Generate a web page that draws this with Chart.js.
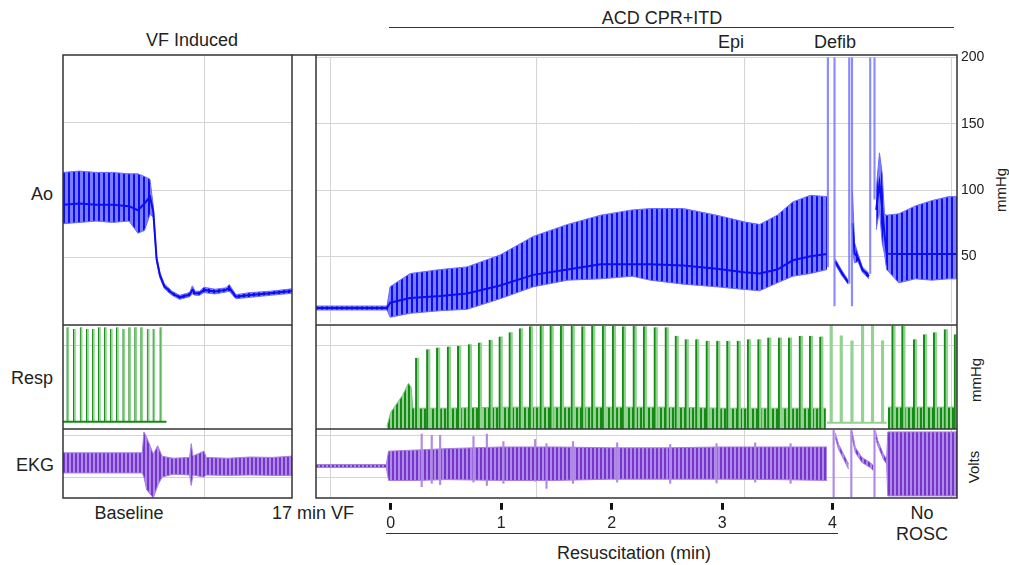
<!DOCTYPE html>
<html>
<head>
<meta charset="utf-8">
<script src="https://cdn.jsdelivr.net/npm/chart.js@4.4.1/dist/chart.umd.min.js"></script>
<style>
  body { margin: 0; background: #fff; }
  #stage { position: relative; width: 1009px; height: 565px; overflow: hidden;
           font-family: 'Liberation Sans', Arial, sans-serif; color: #222; }
  #stage canvas { position: absolute; }
  #frames { position: absolute; left: 0; top: 0; }
  .lbl { position: absolute; transform: translate(-50%, -50%); white-space: nowrap; font-size: 18px; line-height: 1; }
  .lbl.r { transform: translate(-100%, -50%); }
  .lbl.v { transform: translate(-50%, -50%) rotate(-90deg); font-size: 15px; }
</style>
</head>
<body>
<div id="stage">
  <div class="lbl" style="left:192px;top:40px">VF Induced</div>
  <div class="lbl" style="left:662px;top:18px">ACD CPR+ITD</div>
  <div class="lbl" style="left:731px;top:42px">Epi</div>
  <div class="lbl" style="left:835px;top:42px">Defib</div>
  <div class="lbl r" style="left:53px;top:194px">Ao</div>
  <div class="lbl r" style="left:53px;top:378px">Resp</div>
  <div class="lbl r" style="left:54px;top:465px">EKG</div>
  <div class="lbl" style="left:129px;top:513px">Baseline</div>
  <div class="lbl" style="left:313px;top:513px">17 min VF</div>
  <div class="lbl" style="left:922px;top:513px">No</div>
  <div class="lbl" style="left:922px;top:534px">ROSC</div>
  <div class="lbl" style="left:634px;top:553px">Resuscitation (min)</div>
  <div class="lbl v" style="left:1000px;top:190px">mmHg</div>
  <div class="lbl v" style="left:975px;top:380px">mmHg</div>
  <div class="lbl v" style="left:973px;top:467px">Volts</div>
</div>
<script>
// ---- time axes (minutes) ----
const leftRange  = [0, 2.08];          // baseline + VF induction
const rightRange = [-0.677, 5.127];    // end of 17 min VF -> resuscitation
const leftGridX  = [1.283];
const rightGridX = [-0.55, 1.322, 3.203, 5.075];
const minuteTicks = [0, 1, 2, 3, 4];

// ---- Ao (mmHg): baseline / VF ----
const aoBaseT   = [0, 0.15, 0.30, 0.45, 0.60, 0.68, 0.74, 0.79, 0.82, 0.85, 0.88, 0.92, 0.99, 1.06, 1.15, 1.175, 1.20, 1.24, 1.28, 1.38, 1.48, 1.51, 1.57, 1.70, 1.88, 2.08];
const aoBaseHi  = [113, 114, 113, 113, 112, 112, 110, 108, 88, 51, 39, 30.5, 25, 22, 24, 29, 25, 25, 28, 26.5, 27.5, 30, 22.5, 24, 25, 26.8];
const aoBaseLo  = [75, 76, 77, 76, 77, 68, 70, 82, 80, 47, 35, 27, 22, 19, 21, 23, 22, 22, 24, 23, 24.5, 25, 19.5, 20.5, 22, 23.5];
const aoBaseMid = [89, 90, 89, 89, 88, 85, 90, 95, 84, 49, 37, 28.7, 23.5, 20.5, 22.5, 26, 23.5, 23.5, 26, 24.8, 26, 27.5, 21, 22.3, 23.5, 25.2];

// ---- Ao (mmHg): resuscitation ----
const aoResT   = [-0.677, -0.034, -0.006, 0.175, 0.45, 0.69, 0.99, 1.29, 1.60, 1.90, 2.19, 2.35, 2.65, 2.95, 3.20, 3.34, 3.50, 3.64, 3.80, 3.95, 3.99, 4.024, 4.08, 4.141, 4.16, 4.18, 4.20, 4.23, 4.27, 4.33, 4.36, 4.395, 4.425, 4.45, 4.47, 4.49, 4.60, 4.75, 4.90, 5.05, 5.127];
const aoResHi  = [12.5, 12.5, 27, 37, 40, 42, 51, 65, 74, 81, 85, 86, 86, 81, 76, 74, 81, 91, 96, 95, null, 48, 40, 32, null, 99, 60, 52, 42, 37, null, 100, 128, 112, 82, 81, 82, 88, 92, 95, 95];
const aoResLo  = [9.5, 9.5, 4, 7, 9, 10, 18, 27, 32, 33, 35, 32, 29, 27, 25, 24, 30, 35, 37, 40, null, 44, 36, 29, null, 55, 45, 46, 38, 33, null, 70, 85, 60, 52, 40, 30, 33, 32, 33, 33];
const aoResMid = [11, 11, 15, 18.6, 20, 22, 28, 36, 40, 44, 44, 44, 43, 40.6, 38, 37, 40, 47, 50, 51.7, null, 46, 38, 30.5, null, 75, 52, 49, 40, 35, null, 85, 105, 86, 67, 52, 51.7, 51.7, 51.7, 51.7, 51.7];
const shockT   = [3.958, 4.018, 4.151, 4.176, 4.341, 4.380];
const shockLo  = [42, 12.5, 29.6, 12.5, 37, 93];
const aoTicks  = [50, 100, 150, 200];

// ---- Resp (mmHg) ----
const respBaseT    = [0.045, 0.105, 0.166, 0.223, 0.277, 0.332, 0.386, 0.440, 0.495, 0.553, 0.607, 0.661, 0.716, 0.775, 0.827, 0.890];
const respBasePeak = [48.9, 48.1, 48.9, 48.1, 48.1, 48.9, 48.9, 48.1, 48.9, 48.1, 48.9, 48.9, 48.9, 48.1, 48.1, 48.9];
const respBaseLineT = [0, 0.94];
const respBaseLine  = [3.5, 3.5];
const respBandT  = [-0.036, 0.0, 0.06, 0.11, 0.16, 0.185, 0.20, 0.5, 1.0, 1.5, 2.0, 2.5, 3.0, 3.5, 3.94, 3.95, 4.49, 4.50, 4.8, 5.127];
const respBandHi = [1, 8, 12.6, 16.5, 22, 20, 10, 10, 10.5, 10.5, 10.5, 10.5, 10, 10, 10, null, null, 10.5, 10.5, 10.5];
const respResT    = [0.241, 0.341, 0.431, 0.528, 0.621, 0.718, 0.809, 0.906, 0.996, 1.087, 1.180, 1.271, 1.368, 1.458, 1.552, 1.649, 1.745, 1.835, 1.932, 2.023, 2.113, 2.210, 2.303, 2.400, 2.500, 2.591, 2.681, 2.777, 2.871, 2.967, 3.058, 3.152, 3.245, 3.339, 3.429, 3.526, 3.617, 3.714, 3.807, 3.900, 4.553, 4.643, 4.749, 4.840, 4.930, 5.027, 5.118];
const respResPeak = [34.3, 38.3, 39.2, 39.7, 40.0, 40.8, 41.6, 42.9, 44.5, 46.5, 48.4, 49.4, 49.6, 49.6, 49.5, 49.6, 49.4, 49.6, 49.5, 49.6, 49.4, 49.5, 49.4, 48.9, 48.9, 44.8, 43.2, 43.2, 42.4, 42.4, 42.4, 42.4, 43.2, 43.2, 44.0, 44.0, 44.0, 44.8, 44.8, 44.5, 49.7, 49.7, 43.2, 45.6, 46.5, 48.0, 45.6];
const respPauseT    = [3.988, 4.079, 4.176, 4.272, 4.362, 4.453];
const respPausePeak = [49.7, 44.8, 42.4, 49.7, 49.7, 42.4];
const respPauseLineT = [3.95, 4.49];
const respPauseLine  = [3, 3];
const respGridY = [40];

// ---- EKG (mV) ----
const ekgBaseT  = [0, 0.72, 0.735, 0.76, 0.82, 0.86, 0.90, 1.0, 1.15, 1.165, 1.18, 1.28, 1.30, 1.5, 1.7, 1.9, 2.08];
const ekgBaseHi = [0.58, 0.58, 1.08, 0.95, 0.55, 0.75, 0.5, 0.45, 0.47, 0.8, 0.5, 0.62, 0.47, 0.45, 0.48, 0.47, 0.5];
const ekgBaseLo = [0.10, 0.10, 0.0, -0.3, -0.5, -0.2, 0.0, 0.07, 0.05, -0.2, 0.05, 0.0, 0.05, 0.04, 0.05, 0.04, 0.04];
const ekgResT  = [-0.677, -0.04, -0.02, 0.25, 0.5, 1.0, 1.5, 2.0, 2.5, 3.0, 3.5, 3.95, 3.99, 4.024, 4.054, 4.10, 4.145, 4.16, 4.176, 4.206, 4.266, 4.341, 4.371, 4.38, 4.389, 4.41, 4.46, 4.49, 4.5, 4.8, 5.127];
const ekgResHi = [0.30, 0.30, 0.62, 0.65, 0.68, 0.72, 0.72, 0.70, 0.70, 0.72, 0.72, 0.72, null, 1.06, 0.79, 0.55, 0.31, null, 1.1, 0.71, 0.47, 0.35, 0.27, null, 1.1, 0.87, 0.55, 0.43, 1.08, 1.08, 1.08];
const ekgResLo = [0.23, 0.23, -0.08, -0.08, -0.06, -0.08, -0.08, -0.05, -0.05, -0.05, -0.06, -0.08, null, 0.95, 0.67, 0.43, 0.19, null, 0.95, 0.59, 0.35, 0.23, 0.15, null, 0.95, 0.75, 0.43, 0.31, -0.45, -0.45, -0.45];
const ekgSpikeT  = [0.28, 0.371, 0.447, 0.749, 0.87, 1.02, 1.307, 1.41, 1.65, 2.05, 2.53, 2.95, 3.30, 3.62];
const ekgSpikeHi = [1.03, 1.0, 1.0, 0.97, 1.03, 0.85, 0.9, 0.8, 0.85, 0.82, 0.78, 0.8, 0.82, 0.8];
const ekgSpikeLo = [-0.23, -0.15, -0.18, -0.12, -0.2, -0.15, -0.1, -0.27, -0.15, -0.12, -0.15, -0.14, -0.12, -0.15];
const ekgShockT  = [4.01, 4.17, 4.38];
const ekgGridY = [0, 1];

// ---- colours ----
const BLUE   = { dark: '#0d0df2', light: '#7c7cff', edge: '#6a6aff' };
const GREEN  = { dark: '#158b15', light: '#92d392', edge: '#7cc67c' };
const PURPLE = { dark: '#7436cc', light: '#b08ae6', edge: '#a67ce2' };
const GRID = '#d4d4d4';

const stage = document.getElementById('stage');
Chart.defaults.font.family = "'Liberation Sans', Arial, sans-serif";

function stripes(c, period, darkW) {
  const cv = document.createElement('canvas');
  cv.width = period; cv.height = 1;
  const g = cv.getContext('2d');
  g.fillStyle = c.light; g.fillRect(0, 0, period, 1);
  g.fillStyle = c.dark;  g.fillRect(0, 0, darkW, 1);
  return g.createPattern(cv, 'repeat');
}

const pts = (xs, ys) => xs.map((x, i) => ({ x, y: ys[i] }));

// hi/lo envelope drawn as a filled band
function band(xs, hi, lo, c, pattern) {
  return [
    { data: pts(xs, lo), borderColor: c.edge, borderWidth: 1, fill: false, spanGaps: false },
    { data: pts(xs, hi), borderColor: c.edge, borderWidth: 1, fill: '-1', backgroundColor: pattern, spanGaps: false },
  ];
}

function bars(xs, lo, hi, color, thick, extra) {
  const data = xs.map((x, i) => ({ x, y: [Array.isArray(lo) ? lo[i] : lo, Array.isArray(hi) ? hi[i] : hi] }));
  return Object.assign({ type: 'bar', data, backgroundColor: color, grouped: false,
    barPercentage: 1, categoryPercentage: 1, maxBarThickness: thick, borderSkipped: false }, extra || {});
}

function gridAxis(min, max, ticks, extra) {
  return Object.assign({
    type: 'linear', min, max, offset: false,
    afterBuildTicks: (s) => { s.ticks = ticks.map((v) => ({ value: v })); },
    ticks: { display: false },
    grid: { color: GRID, lineWidth: 1, drawTicks: false, offset: false },
    border: { display: false },
  }, extra || {});
}

function plot(box, xr, xGrid, yr, yGrid, datasets, yExtra, padding) {
  const cv = document.createElement('canvas');
  cv.width = box[2]; cv.height = box[3];
  cv.style.left = box[0] + 'px'; cv.style.top = box[1] + 'px';
  stage.appendChild(cv);
  return new Chart(cv, {
    type: 'line',
    data: { datasets },
    options: {
      responsive: false, animation: false, events: [],
      layout: { padding: padding || 0 },
      plugins: { legend: { display: false }, tooltip: { enabled: false } },
      elements: { point: { radius: 0 }, line: { tension: 0 } },
      scales: { x: gridAxis(xr[0], xr[1], xGrid), y: gridAxis(yr[0], yr[1], yGrid, yExtra) },
    },
  });
}

const AO_Y = [0, 200], RESP_Y = [0, 50], EKG_Y = [-0.5, 1.15];

// --- left panel ---
plot([63, 55, 229, 270], leftRange, leftGridX, AO_Y, [50, 100, 150], [
  { data: pts(aoBaseT, aoBaseMid), borderColor: BLUE.dark, borderWidth: 2, fill: false },
  ...band(aoBaseT, aoBaseHi, aoBaseLo, BLUE, stripes(BLUE, 5, 2)),
]);
plot([63, 325, 229, 104], leftRange, leftGridX, RESP_Y, respGridY, [
  { data: pts(respBaseLineT, respBaseLine), borderColor: GREEN.dark, borderWidth: 2, fill: false },
  bars(respBaseT, 3.5, respBasePeak, GREEN.light, 2.5, { borderColor: GREEN.dark, borderWidth: { left: 1, right: 0, top: 0, bottom: 0 } }),
]);
plot([63, 429, 229, 69], leftRange, leftGridX, EKG_Y, ekgGridY, [
  ...band(ekgBaseT, ekgBaseHi, ekgBaseLo, PURPLE, stripes(PURPLE, 4, 2)),
]);

// --- right panel ---
plot([316, 45, 681, 290], rightRange, rightGridX, AO_Y, aoTicks, [
  bars(shockT, shockLo, 200, 'rgba(110,110,255,0.8)', 1.5),
  { data: pts(aoResT, aoResMid), borderColor: BLUE.dark, borderWidth: 2, fill: false, spanGaps: false },
  ...band(aoResT, aoResHi, aoResLo, BLUE, stripes(BLUE, 5, 2)),
], {
  position: 'right',
  ticks: { display: true, color: '#222', font: { size: 14 }, padding: 4 },
  afterFit: (s) => { s.width = 40; },
}, { top: 10, bottom: 10 });

plot([316, 325, 641, 104], rightRange, rightGridX, RESP_Y, respGridY, [
  bars(respResT, 0, respResPeak, GREEN.light, 4, { borderColor: GREEN.dark, borderWidth: { left: 2, right: 0, top: 0, bottom: 0 } }),
  bars(respPauseT, 3, respPausePeak, GREEN.light, 2.5),
  { data: pts(respPauseLineT, respPauseLine), borderColor: GREEN.light, borderWidth: 2, fill: false },
  { data: pts(respBandT, respBandHi), borderColor: GREEN.edge, borderWidth: 1, fill: 'origin',
    backgroundColor: stripes(GREEN, 4, 2), spanGaps: false },
]);

plot([316, 429, 641, 69], rightRange, rightGridX, EKG_Y, ekgGridY, [
  bars(ekgShockT, -0.47, 1.12, PURPLE.light, 1.5),
  bars(ekgSpikeT, ekgSpikeLo, ekgSpikeHi, PURPLE.light, 1.5),
  ...band(ekgResT, ekgResHi, ekgResLo, PURPLE, stripes(PURPLE, 4, 2)),
]);

// --- resuscitation minute axis (tick marks start just below the frame) ---
(function () {
  const cv = document.createElement('canvas');
  cv.width = 641; cv.height = 70;
  cv.style.left = '316px'; cv.style.top = '467px';
  stage.appendChild(cv);
  new Chart(cv, {
    type: 'line',
    data: { datasets: [] },
    options: {
      responsive: false, animation: false, events: [],
      plugins: { legend: { display: false }, tooltip: { enabled: false } },
      scales: {
        x: {
          type: 'linear', min: rightRange[0], max: rightRange[1],
          afterBuildTicks: (s) => { s.ticks = minuteTicks.map((v) => ({ value: v })); },
          border: { display: false },
          grid: { drawOnChartArea: false, drawTicks: true, tickLength: 7, tickWidth: 3, tickColor: '#111' },
          ticks: { color: '#222', font: { size: 16 }, padding: 4, maxRotation: 0 },
        },
        y: { display: false },
      },
    },
  });
})();

// --- frames and brackets ---
const svg = `<svg id="frames" width="1009" height="565" xmlns="http://www.w3.org/2000/svg">
  <g fill="none" stroke="#333" stroke-width="1.5">
    <rect x="63" y="55" width="229" height="443"/>
    <rect x="316" y="55" width="641" height="443"/>
    <line x1="292" y1="55" x2="316" y2="55"/>
    <line x1="63" y1="325" x2="292" y2="325"/><line x1="63" y1="429" x2="292" y2="429"/>
    <line x1="316" y1="325" x2="957" y2="325"/><line x1="316" y1="429" x2="957" y2="429"/>
  </g>
  <g stroke="#333" stroke-width="1.2">
    <line x1="389" y1="27.5" x2="954" y2="27.5"/>
    <line x1="386" y1="533.5" x2="838" y2="533.5"/>
  </g>
</svg>`;
stage.insertAdjacentHTML('beforeend', svg);
</script>
</body>
</html>
